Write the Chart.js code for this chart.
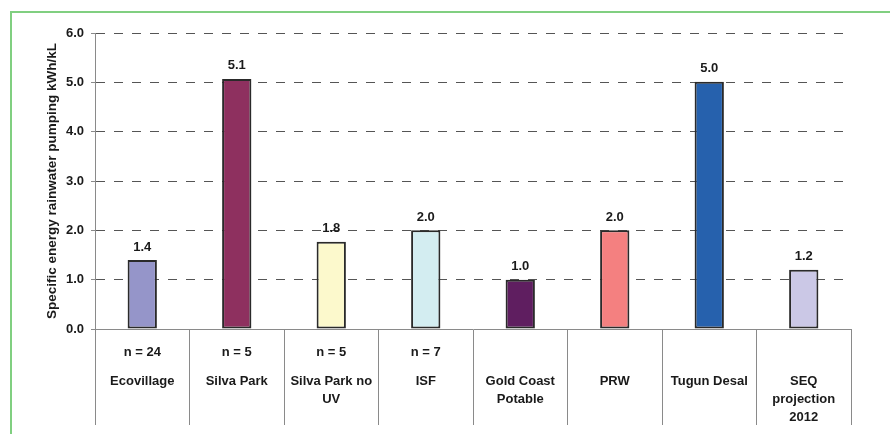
<!DOCTYPE html>
<html>
<head>
<meta charset="utf-8">
<script src="https://cdn.jsdelivr.net/npm/chart.js@4"></script>
<style>
  html, body { margin: 0; padding: 0; background: #fff; overflow: hidden; }
  #wrap { position: relative; width: 890px; height: 434px; }
  #frame {
    position: absolute; left: 10px; top: 11px; width: 900px; height: 440px;
    border-left: 2px solid #80cf80; border-top: 2px solid #80cf80;
  }
  #chart { position: absolute; left: 0; top: 0; }
</style>
</head>
<body>
<div id="wrap">
  <div id="frame"></div>
  <canvas id="chart" width="890" height="434"></canvas>
</div>
<script>
const sites = ["Ecovillage", "Silva Park", "Silva Park no UV", "ISF", "Gold Coast Potable", "PRW", "Tugun Desal", "SEQ projection 2012"];
const siteLines = [["Ecovillage"], ["Silva Park"], ["Silva Park no", "UV"], ["ISF"], ["Gold Coast", "Potable"], ["PRW"], ["Tugun Desal"], ["SEQ", "projection", "2012"]];
const sampleSizes = ["n = 24", "n = 5", "n = 5", "n = 7", "", "", "", ""];
const energy = [1.4, 5.07, 1.77, 2.0, 1.0, 2.0, 5.01, 1.2];
const barColors = ["#9595c9", "#8e305f", "#fcf9cc", "#d3edf1", "#5f1e60", "#f48080", "#2661ad", "#cbc8e6"];
const yTicks = [0, 1, 2, 3, 4, 5, 6];

const FONT = "'Liberation Sans', Arial, sans-serif";

// value above each bar + the two text rows under the axis
const labelPlugin = {
  id: "labels",
  afterDraw(chart) {
    const ctx = chart.ctx;
    const x = chart.scales.x;
    const meta = chart.getDatasetMeta(0);
    ctx.save();
    ctx.fillStyle = "#1a1a1a";
    ctx.font = "bold 13px " + FONT;
    ctx.textAlign = "center";
    ctx.textBaseline = "middle";
    meta.data.forEach((bar, i) => {
      ctx.fillText(energy[i].toFixed(1), bar.x, bar.y - 13);
    });
    const base = chart.chartArea.bottom;
    sites.forEach((s, i) => {
      const cx = x.getPixelForValue(i);
      if (sampleSizes[i]) ctx.fillText(sampleSizes[i], cx, base + 23);
      siteLines[i].forEach((line, j) => {
        ctx.fillText(line, cx, base + 52 + j * 18);
      });
    });
    ctx.restore();
  }
};

new Chart(document.getElementById("chart"), {
  type: "bar",
  data: {
    labels: sites,
    datasets: [{
      data: energy,
      backgroundColor: barColors,
      borderColor: "#2a2a2a",
      borderWidth: 2,
      borderSkipped: false,
      barPercentage: 0.31,
      categoryPercentage: 1
    }]
  },
  options: {
    responsive: false,
    animation: false,
    events: [],
    layout: { padding: { left: 40, top: 33, right: 39, bottom: 9 } },
    plugins: { legend: { display: false }, tooltip: { enabled: false } },
    scales: {
      x: {
        ticks: { display: false },
        grid: { offset: true, drawOnChartArea: false, tickLength: 96, color: "#8a8a8a", lineWidth: 1 },
        border: { color: "#8a8a8a", width: 1 }
      },
      y: {
        min: 0,
        max: 6,
        afterBuildTicks: (scale) => { scale.ticks = yTicks.map(v => ({ value: v })); },
        afterFit: (scale) => { scale.width = 55; },
        ticks: {
          padding: 7,
          color: "#1a1a1a",
          font: { family: FONT, size: 13, weight: "bold" },
          callback: (v) => v.toFixed(1)
        },
        grid: { color: "#555", lineWidth: 1, tickLength: 4, tickColor: "#8a8a8a" },
        border: { color: "#8a8a8a", width: 1, dash: [9, 9] },
        title: {
          display: true,
          text: "Specific energy rainwater pumping kWh/kL",
          color: "#1a1a1a",
          font: { family: FONT, size: 13.5, weight: "bold" },
          padding: { top: 4, bottom: 0 }
        }
      }
    }
  },
  plugins: [labelPlugin]
});
</script>
</body>
</html>
